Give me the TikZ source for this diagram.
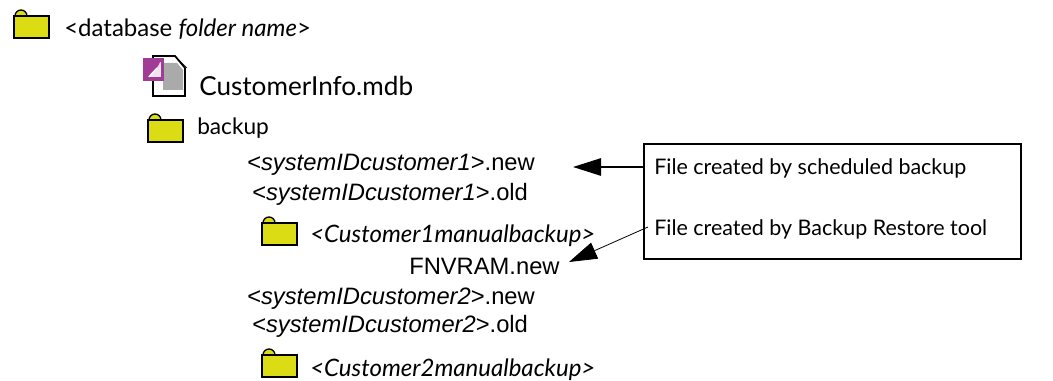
\documentclass[tikz,border=0pt]{standalone}
\usepackage{fontspec}
\setmainfont{Lato}
\newfontfamily\helv{Liberation Sans}
\usetikzlibrary{arrows.meta}

\definecolor{folderyellow}{RGB}{220,220,20}
\definecolor{accesspurple}{RGB}{160,60,150}
\definecolor{filegray}{RGB}{170,170,170}

\tikzset{
	futura/.style={anchor=base west,inner sep=0pt,font=\fontsize{18}{20}\selectfont},
	notetext/.style={anchor=base west,inner sep=0pt,font=\fontsize{16.1}{20}\selectfont},
	helvet/.style={anchor=base west,inner sep=0pt,font=\helv\fontsize{17.8}{20}\selectfont},
	pics/folder/.style={code={
		\draw [fill=folderyellow,line width=1pt] (1,0) arc (180:360:6);
		\draw [fill=folderyellow,line width=1.5pt] (0,0) rectangle (35,22);
	}}
}

\begin{document}
\begin{tikzpicture}[x=0.75pt,y=-0.75pt,>={Triangle[length=21pt,width=13pt]}]
	\useasboundingbox (0,0) rectangle (1053,381);
	% tree
	\pic at (14,16) {folder};
	\node [futura] (dbfolder) at (64,37) {<database \textit{folder name}>};
	\draw [line width=1.3pt] (153,96) -- (153,56) -- (175,56) -- (185,68) -- (185,96) -- cycle;
	\draw [line width=0.5pt] (175,56) -- (187,68);
	\fill [filegray] (163,63) -- (177,63) -- (183,70) -- (183,90) -- (163,90) -- cycle;
	\fill [accesspurple] (143,58) rectangle (164,81);
	\fill [white!85!accesspurple] (148,62) rectangle (161,77);
	\fill [accesspurple] (148,62) -- (160,62) -- (158,66) -- (151,73) -- (148,77) -- cycle;
	\draw [white,line width=0.8pt] (149,77) -- (157,68);
	\node [futura,font=\fontsize{19.6}{20}\selectfont] (custinfo) at (199,96) {CustomerInfo.mdb};
	\pic at (148,120) {folder};
	\node [futura,font=\fontsize{17}{20}\selectfont] (backup) at (197,135) {backup};
	\node [helvet] (new1) at (247,171) {<\textit{systemIDcustomer1}>.new};
	\node [helvet] (old1) at (252,200) {<\textit{systemIDcustomer1}>.old};
	\pic at (262,223) {folder};
	\node [futura] (manual1) at (310,243) {\textit{<Customer1manualbackup>}};
	\node [helvet] (fnvram) at (409,274) {FNVRAM.new};
	\node [helvet] (new2) at (247,304) {<\textit{systemIDcustomer2}>.new};
	\node [helvet] (old2) at (252,332) {<\textit{systemIDcustomer2}>.old};
	\pic at (262,355) {folder};
	\node [futura] (manual2) at (310,376) {\textit{<Customer2manualbackup>}};
	% note box
	\node [draw,line width=1.5pt,minimum width=283pt,minimum height=86pt,inner sep=0pt,anchor=north west] (notebox) at (643,143) {};
	\node [notetext] (sched) at (654,175) {File created by scheduled backup};
	\node [notetext] (restore) at (654,235) {File created by Backup Restore tool};
	\coordinate (tipsched) at (573,167);
	\coordinate (fromrestore) at (648,227);
	\coordinate (tiprestore) at (569,262);
	\draw [->,line width=1.3pt] (notebox.west |- tipsched) -- (tipsched);
	\draw [->,line width=0.6pt] (fromrestore) -- (tiprestore);
\end{tikzpicture}
\end{document}
